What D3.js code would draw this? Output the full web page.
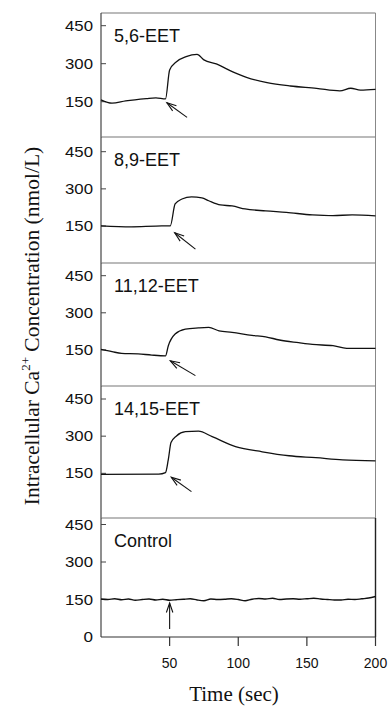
<!DOCTYPE html>
<html><head><meta charset="utf-8">
<script src="https://cdn.jsdelivr.net/npm/d3@7"></script>
<style>html,body{margin:0;padding:0;background:#fff}</style>
</head><body><svg id="c" width="389" height="706"></svg>
<script>
// ---------- data ----------
const panelNames = ["5,6-EET", "8,9-EET", "11,12-EET", "14,15-EET", "Control"];
const yTicks = [150, 300, 450];
const xTicks = [50, 100, 150, 200];

const t56 = [0, 8, 18, 33, 40, 47, 50, 55, 62, 70, 75, 84, 96, 106, 121, 138, 157, 174, 182, 189, 200];
const v56 = [157, 144, 153, 162, 165, 161, 275, 308, 328, 337, 315, 299, 268, 246, 225, 212, 203, 193, 203, 196, 199];

const t89 = [0, 22, 40, 50.5, 54, 59, 66, 73.5, 78.5, 87, 95.5, 105, 120, 135, 154, 169, 183, 200];
const v89 = [151, 147, 150, 151, 239, 259, 268, 264, 252, 235, 231, 219, 211, 205, 195, 192, 195, 191];

const t1112 = [0, 8, 15, 27, 37, 47, 49, 54, 61.5, 71, 78.5, 86, 95.5, 110, 120, 130, 144, 154, 169, 179, 200];
const v1112 = [152, 143, 136, 134, 129, 126, 166, 214, 234, 239, 241, 227, 221, 209, 203, 190, 179, 172, 167, 156, 156];

const t1415 = [0, 42, 47, 49, 51, 55, 61.5, 71, 81, 98, 117.5, 137, 156.5, 176, 200];
const v1415 = [146, 147, 153, 204, 274, 301, 318, 320, 298, 258, 237, 221, 213, 204, 200];

const tCtl = [0, 5, 10, 15, 20, 25, 30, 35, 40, 45, 50, 55, 60, 65, 70, 75, 80, 85, 90, 95, 100, 105, 110, 115, 120, 125, 130, 135, 140, 145, 150, 155, 160, 165, 170, 175, 180, 185, 190, 195, 200];
const vCtl = [152, 150, 153, 149, 152, 147, 150, 152, 148, 151, 147, 149, 151, 153, 148, 145, 152, 150, 151, 153, 150, 145, 151, 154, 152, 155, 150, 152, 153, 151, 153, 155, 152, 150, 148, 148, 151, 150, 153, 156, 162];

// arrows: [tailT, tailV, tipT, tipV]
const arrows = [
  [62.7, 88, 48, 146],
  [68.8, 57, 53.7, 123],
  [68.8, 46, 50.5, 106],
  [65.9, 76, 51.2, 134],
  [50, 32, 50, 136]
];

const seriesT = [t56, t89, t1112, t1415, tCtl];
const seriesV = [v56, v89, v1112, v1415, vCtl];

// ---------- layout ----------
const panelTop = [13, 137, 263, 386, 518];
const panelBot = [137, 263, 386, 518, 637];
const pxZero = [139.7, 263.2, 387, 510.5, 637];
const px450 = [25.7, 151.7, 275.7, 399, 524.5];

const svg = d3.select("#c");
const x = d3.scaleLinear().domain([0, 200]).range([101, 375.5]);

panelNames.forEach((name, i) => {
  const y = d3.scaleLinear().domain([0, 450]).range([pxZero[i], px450[i]]);
  const g = svg.append("g");
  // frame
  g.append("line").attr("x1", x(0)).attr("x2", x(200)).attr("y1", panelTop[i]).attr("y2", panelTop[i])
    .attr("stroke", "#777").attr("stroke-width", 1.1);
  g.append("line").attr("x1", x(200)).attr("x2", x(200)).attr("y1", panelTop[i]).attr("y2", panelBot[i])
    .attr("stroke", i === 4 ? "#222" : "#888").attr("stroke-width", i === 4 ? 1.4 : 1);
  g.append("line").attr("x1", x(0)).attr("x2", x(0)).attr("y1", panelTop[i]).attr("y2", panelBot[i])
    .attr("stroke", "#333").attr("stroke-width", 1.1);
  if (i === 4) {
    g.append("line").attr("x1", x(0)).attr("x2", x(200)).attr("y1", panelBot[i]).attr("y2", panelBot[i])
      .attr("stroke", "#333").attr("stroke-width", 1.2);
  }
  // y ticks
  const yt = i === 4 ? [0].concat(yTicks) : yTicks;
  yt.forEach(v => {
    if (v > 0) {
      g.append("line").attr("x1", x(0)).attr("x2", x(0) + 5).attr("y1", y(v)).attr("y2", y(v))
        .attr("stroke", "#444").attr("stroke-width", 1);
    }
    const tx = g.append("text").attr("x", 93).attr("y", y(v)).attr("dy", "0.36em")
      .attr("text-anchor", "end").attr("font-family", "Liberation Sans, Arial, sans-serif")
      .attr("font-size", 14).attr("fill", "#111").text(v);
    if (v > 0) tx.attr("textLength", 28).attr("lengthAdjust", "spacingAndGlyphs");
    else tx.attr("textLength", 9.5).attr("lengthAdjust", "spacingAndGlyphs");
  });
  // label
  g.append("text").attr("x", 114).attr("y", panelTop[i] + 29)
    .attr("font-family", "Liberation Sans, Arial, sans-serif").attr("font-size", 18).attr("fill", "#111")
    .text(name);
  // trace
  const pts = seriesT[i].map((t, k) => [t, seriesV[i][k]]);
  const line = d3.line().x(d => x(d[0])).y(d => y(d[1])).curve(d3.curveMonotoneX);
  g.append("path").attr("d", line(pts)).attr("fill", "none").attr("stroke", "#111").attr("stroke-width", 1.3);
  // arrow
  const a = arrows[i];
  const x1 = x(a[0]), y1 = y(a[1]), x2 = x(a[2]), y2 = y(a[3]);
  g.append("line").attr("x1", x1).attr("y1", y1).attr("x2", x2).attr("y2", y2)
    .attr("stroke", "#111").attr("stroke-width", 1.1);
  const ang = Math.atan2(y1 - y2, x1 - x2);
  const hl = 10, ha = 0.33;
  const hp = [[x2 + hl * Math.cos(ang + ha), y2 + hl * Math.sin(ang + ha)], [x2, y2],
              [x2 + hl * Math.cos(ang - ha), y2 + hl * Math.sin(ang - ha)]];
  g.append("path").attr("d", d3.line()(hp)).attr("fill", "none").attr("stroke", "#111").attr("stroke-width", 1.1);
});

// x axis ticks (bottom panel)
xTicks.forEach(t => {
  svg.append("line").attr("x1", x(t)).attr("x2", x(t)).attr("y1", 637).attr("y2", 646)
    .attr("stroke", "#333").attr("stroke-width", 1.2);
  svg.append("text").attr("x", x(t)).attr("y", 668).attr("text-anchor", "middle")
    .attr("font-family", "Liberation Sans, Arial, sans-serif").attr("font-size", 14).attr("fill", "#111").text(t);
});

// axis titles
svg.append("text").attr("x", 234).attr("y", 701).attr("text-anchor", "middle")
  .attr("font-family", "Liberation Serif, Times New Roman, serif").attr("font-size", 21).attr("fill", "#111")
  .text("Time (sec)");

const yl = svg.append("text").attr("transform", "translate(39,326) rotate(-90)").attr("text-anchor", "middle")
  .attr("font-family", "Liberation Serif, Times New Roman, serif").attr("font-size", 21.5).attr("fill", "#111");
yl.append("tspan").text("Intracellular Ca");
yl.append("tspan").attr("font-size", 13).attr("dy", -9).text("2+");
yl.append("tspan").attr("dy", 9).text(" Concentration (nmol/L)");
</script></body></html>
